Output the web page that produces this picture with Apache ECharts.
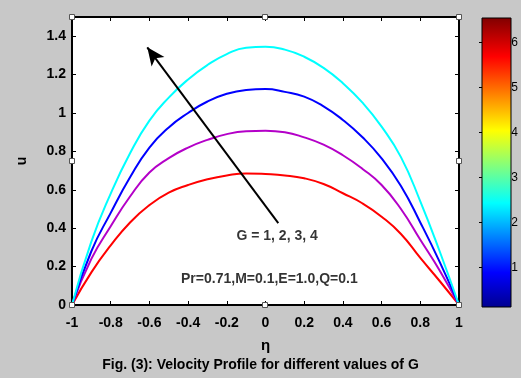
<!DOCTYPE html>
<html>
<head>
<meta charset="utf-8">
<script src="https://cdn.jsdelivr.net/npm/echarts@6/dist/echarts.min.js"></script>
<style>
  html, body { margin: 0; padding: 0; background: #c8c8c8; }
  #chart { width: 521px; height: 378px; }
</style>
</head>
<body>
<div id="chart"></div>
<script>
// eta positions
const eta = [-1, -0.9, -0.8, -0.7, -0.6, -0.5, -0.4, -0.3, -0.2, -0.1, 0, 0.1, 0.2, 0.3, 0.4, 0.5, 0.6, 0.7, 0.8, 0.9, 1];
// velocity u for G = 1..4
const uG1 = [0, 0.17, 0.31, 0.43, 0.52, 0.585, 0.625, 0.655, 0.675, 0.685, 0.682, 0.675, 0.66, 0.63, 0.582, 0.53, 0.46, 0.37, 0.245, 0.125, 0];
const uG2 = [0, 0.24, 0.41, 0.565, 0.69, 0.765, 0.82, 0.86, 0.89, 0.905, 0.908, 0.9, 0.873, 0.835, 0.78, 0.71, 0.625, 0.5, 0.34, 0.18, 0];
const uG3 = [0, 0.28, 0.48, 0.665, 0.82, 0.925, 1.0, 1.06, 1.1, 1.12, 1.125, 1.11, 1.085, 1.035, 0.964, 0.875, 0.764, 0.62, 0.43, 0.225, 0];
const uG4 = [0, 0.33, 0.58, 0.79, 0.96, 1.08, 1.175, 1.25, 1.307, 1.34, 1.345, 1.33, 1.293, 1.235, 1.155, 1.055, 0.929, 0.77, 0.54, 0.28, 0];
const lineColors = ["#ff0000", "#b400c8", "#0000ff", "#00ffff"];
const colorbarTicks = [1, 2, 3, 4, 5, 6];
const arrowFrom = [0.066, 0.426];
const arrowTo = [-0.611, 1.342];

const font = "'Liberation Sans', Arial, sans-serif";
const chart = echarts.init(document.getElementById("chart"));

const pairs = (ys) => eta.map((x, i) => [x, ys[i]]);
const curve = (ys, color) => ({
  type: "line",
  data: pairs(ys),
  smooth: 0.5,
  symbol: "none",
  lineStyle: { color: color, width: 2 },
  z: 3,
});

const boldLabel = { color: "#000", fontFamily: font, fontWeight: "bold", fontSize: 14 };
const frameAxis = {
  axisLine: { onZero: false, lineStyle: { color: "#000", width: 2 } },
  axisTick: { inside: true, length: 4, lineStyle: { color: "#000" } },
  axisLabel: { show: false },
  splitLine: { show: false },
};

// little edit handles on the plot frame (corners and mid edges)
const handlePts = [[72, 17], [265, 17], [459, 17], [72, 161], [459, 161], [72, 305], [265, 305], [459, 305]];
const handles = handlePts.map((p) => ({
  type: "rect", z: 20,
  shape: { x: p[0] - 2.5, y: p[1] - 2.5, width: 5, height: 5 },
  style: { fill: "#fff", stroke: "#555", lineWidth: 1 },
}));

chart.setOption({
  backgroundColor: "#c8c8c8",
  animation: false,
  grid: [
    { left: 72, right: 62, top: 17, bottom: 73, show: true, backgroundColor: "#fff", borderWidth: 0 },
    { left: 482, width: 29, top: 18, height: 289, show: false },
  ],
  xAxis: [
    Object.assign({}, frameAxis, {
      gridIndex: 0, type: "value", min: -1, max: 1, interval: 0.2,
      axisLabel: Object.assign({ margin: 11 }, boldLabel),
      name: "η", nameLocation: "middle", nameGap: 33,
      nameTextStyle: Object.assign({}, boldLabel, { fontSize: 15 }),
    }),
    Object.assign({}, frameAxis, { gridIndex: 0, type: "value", min: -1, max: 1, interval: 0.2, position: "top" }),
    { gridIndex: 1, type: "value", show: false, min: 0, max: 1 },
  ],
  yAxis: [
    Object.assign({}, frameAxis, {
      gridIndex: 0, type: "value", min: 0, max: 1.5, interval: 0.2,
      axisLabel: Object.assign({ margin: 6, showMaxLabel: false }, boldLabel),
      name: "u", nameLocation: "middle", nameGap: 43, nameRotate: 90,
      nameTextStyle: Object.assign({}, boldLabel, { fontSize: 14 }),
    }),
    Object.assign({}, frameAxis, { gridIndex: 0, type: "value", min: 0, max: 1.5, interval: 0.2, position: "right" }),
    {
      gridIndex: 1, type: "value", min: 0.12, max: 6.55, position: "right",
      axisLine: { show: false },
      axisTick: { show: true, inside: true, length: 3, customValues: colorbarTicks, lineStyle: { color: "#000" } },
      axisLabel: { customValues: colorbarTicks, color: "#000", fontFamily: font, fontSize: 12, margin: 4 },
      splitLine: { show: false },
    },
  ],
  graphic: [
    {
      type: "rect", shape: { x: 482, y: 18, width: 29, height: 289 }, z: 10,
      style: {
        stroke: "#000", lineWidth: 1,
        fill: new echarts.graphic.LinearGradient(0, 0, 0, 1, [
          { offset: 0, color: "#800000" },
          { offset: 0.135, color: "#ff0000" },
          { offset: 0.39, color: "#ffff00" },
          { offset: 0.64, color: "#00ffff" },
          { offset: 0.88, color: "#0000ff" },
          { offset: 1, color: "#00008f" },
        ]),
      },
    },
    {
      type: "text", left: "center", top: 358, z: 10,
      style: { text: "Fig. (3): Velocity Profile for different values of G", fill: "#000", font: "bold 14px " + font },
    },
  ].concat(handles),
  series: [
    curve(uG1, lineColors[0]),
    curve(uG2, lineColors[1]),
    curve(uG3, lineColors[2]),
    curve(uG4, lineColors[3]),
    {
      type: "line", data: [], symbol: "none", z: 4,
      markLine: {
        silent: true, symbol: ["none", "arrow"], symbolSize: [12, 18],
        lineStyle: { color: "#000", width: 2, type: "solid" },
        label: { show: false },
        data: [[{ coord: arrowFrom }, { coord: arrowTo }]],
      },
    },
    {
      type: "scatter", data: [[0.06, 0.36], [0.02, 0.135]], symbolSize: 0, z: 5,
      label: {
        show: true, position: "inside",
        formatter: (p) => (p.dataIndex === 0 ? "G = 1, 2, 3, 4" : "Pr=0.71,M=0.1,E=1.0,Q=0.1"),
        color: "#000", fontFamily: font, fontWeight: "bold", fontSize: 14,
      },
    },
  ],
});
</script>
</body>
</html>
